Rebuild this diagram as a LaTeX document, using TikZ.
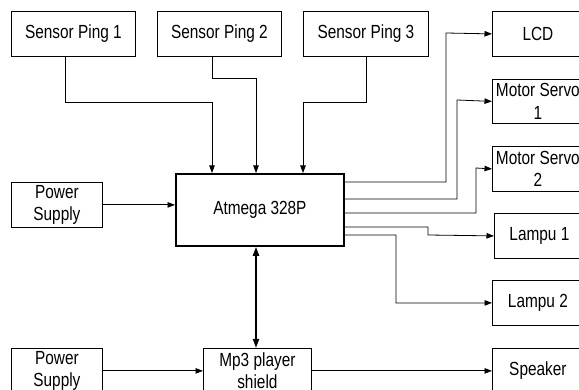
\documentclass[tikz,border=0pt]{standalone}
\usepackage{fontspec}
\setmainfont{Liberation Sans}[FakeStretch=0.81]
\usetikzlibrary{arrows.meta}
\begin{document}
\begin{tikzpicture}[x=1pt,y=-1pt,
  blk/.style={draw, line width=0.8pt, inner sep=0pt, anchor=north west, align=center,
    font=\fontsize{19}{22.5}\selectfont},
  mainblk/.style={blk, line width=1.8pt},
  arr/.style={draw, line width=0.8pt, -{Triangle[length=7.5pt,width=5.5pt]}},
  biarr/.style={draw, line width=1.8pt, {Triangle[length=9pt,width=6pt]}-{Triangle[length=9pt,width=6pt]}}]
\clip (0,0) rectangle (579,390);
\fill[white] (0,0) rectangle (579,390);
% nodes
\node[blk, minimum width=124, minimum height=45] (sp1) at (11,11) {Sensor Ping 1};
\node[blk, minimum width=124, minimum height=45] (sp2) at (157,11) {Sensor Ping 2};
\node[blk, minimum width=125, minimum height=45] (sp3) at (303,11) {Sensor Ping 3};
\node[blk, minimum width=91, minimum height=45] (lcd) at (492,11) {LCD};
\node[blk, minimum width=91, minimum height=44] (ms1) at (492,79) {Motor Servo\\1};
\node[blk, minimum width=91, minimum height=45] (ms2) at (492,146) {Motor Servo\\2};
\node[blk, minimum width=91, minimum height=45] (ps1) at (11,182) {Power\\Supply};
\node[mainblk, minimum width=168, minimum height=72] (atm) at (175,173) {Atmega 328P};
\node[blk, minimum width=90, minimum height=45] (l1) at (494,213) {Lampu 1};
\node[blk, minimum width=91, minimum height=45] (l2) at (492,280) {Lampu 2};
\node[blk, minimum width=91, minimum height=45] (ps2) at (11,348) {Power\\Supply};
\node[blk, minimum width=108, minimum height=45] (mp3) at (203,348) {Mp3 player\\shield};
\node[blk, minimum width=91, minimum height=45] (spk) at (492,348) {Speaker};
% connectors
\draw[arr] (sp1.south -| 65,0) |- (212,102) -- (atm.north -| 212,0);
\draw[arr] (sp2.south -| 212,0) |- (256,78) -- (atm.north -| 256,0);
\draw[arr] (sp3.south -| 366,0) |- (303,102) -- (atm.north -| 303,0);
\draw[arr] (ps1.east) -- (atm.west |- ps1.east);
\draw[biarr] (atm.south -| 256,0) -- (mp3.north -| 256,0);
\draw[arr] (ps2.east) -- (mp3.west);
\draw[arr] (mp3.east) -- (spk.west);
\draw[arr] (atm.east |- 0,182) -| (446,33) -- (lcd.west);
\draw[arr] (atm.east |- 0,199) -| (457,100) -- (ms1.west);
\draw[arr] (atm.east |- 0,213) -| (476,168) -- (ms2.west);
\draw[arr] (atm.east |- 0,227) -| (428,235) -- (l1.west);
\draw[arr] (atm.east |- 0,235) -| (396,303) -- (l2.west);
\end{tikzpicture}
\end{document}
